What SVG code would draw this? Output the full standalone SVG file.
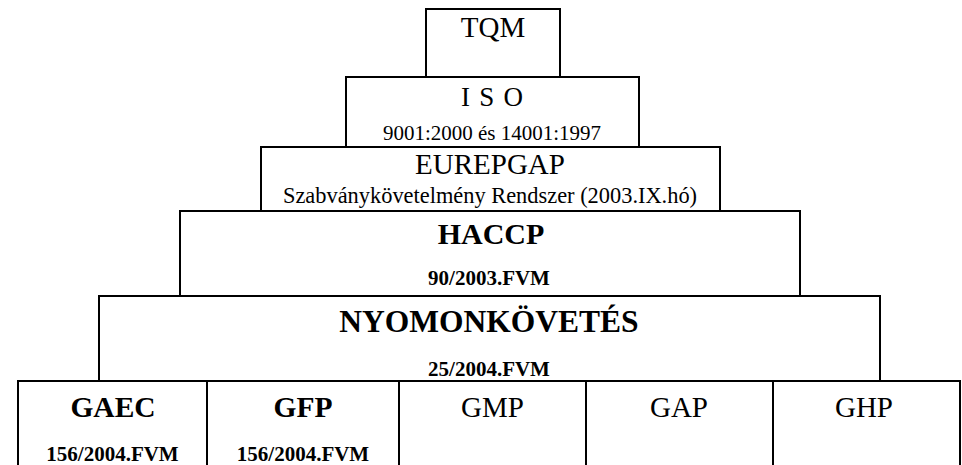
<svg xmlns="http://www.w3.org/2000/svg" width="962" height="465" viewBox="0 0 962 465">
<style>
  .box { fill: #ffffff; stroke: #000000; stroke-width: 2; }
  .div { stroke: #000000; stroke-width: 2; fill: none; }
  text { font-family: "Liberation Serif", "Times New Roman", serif; fill: #000000; text-anchor: middle; }
  .big { font-size: 29px; }
  .mid { font-size: 22px; }
  .sub { font-size: 21px; }
  .bbig { font-size: 30px; font-weight: bold; }
  .bsub { font-size: 21px; font-weight: bold; }
</style>
<rect width="962" height="465" fill="#ffffff"/>
<g id="bottom-row">
  <rect class="box" x="18" y="381" width="942" height="100"/>
  <line class="div" x1="207" y1="381" x2="207" y2="470"/>
  <line class="div" x1="399" y1="381" x2="399" y2="470"/>
  <line class="div" x1="586" y1="381" x2="586" y2="470"/>
  <line class="div" x1="773" y1="381" x2="773" y2="470"/>
</g>
<g id="nyomonkovetes">
  <rect class="box" x="99" y="296" width="781" height="85"/>
  <text class="bbig" x="489" y="331.5" style="font-size:31.5px">NYOMONKÖVETÉS</text>
  <text class="bsub" x="489" y="376">25/2004.FVM</text>
</g>
<g id="haccp">
  <rect class="box" x="180" y="211" width="620" height="85"/>
  <text class="bbig" x="491" y="244">HACCP</text>
  <text class="bsub" x="489" y="284.5">90/2003.FVM</text>
</g>
<g id="eurepgap">
  <rect class="box" x="261" y="147" width="459" height="64"/>
  <text class="big" x="490" y="174">EUREPGAP</text>
  <text class="mid" x="490" y="203" style="font-size:22.4px">Szabványkövetelmény Rendszer (2003.IX.hó)</text>
</g>
<g id="iso">
  <rect class="box" x="346" y="77" width="293" height="70"/>
  <text x="492" y="106" style="font-size:27px; word-spacing:2.5px">I S O</text>
  <text class="sub" x="492" y="140">9001:2000 és 14001:1997</text>
</g>
<g id="tqm">
  <rect class="box" x="426" y="9" width="134" height="68"/>
  <text class="big" x="493" y="37">TQM</text>
</g>
<g id="gaec">
  <text class="bbig" x="113" y="417" style="font-size:29.5px">GAEC</text>
  <text class="bsub" x="112.5" y="460.5">156/2004.FVM</text>
</g>
<g id="gfp">
  <text class="bbig" x="303" y="417" style="font-size:29.5px">GFP</text>
  <text class="bsub" x="303" y="460.5">156/2004.FVM</text>
</g>
<g id="gmp">
  <text class="big" x="492.5" y="417">GMP</text>
</g>
<g id="gap">
  <text class="big" x="679" y="417">GAP</text>
</g>
<g id="ghp">
  <text class="big" x="864" y="417">GHP</text>
</g>
<g id="connectors"></g>
</svg>
